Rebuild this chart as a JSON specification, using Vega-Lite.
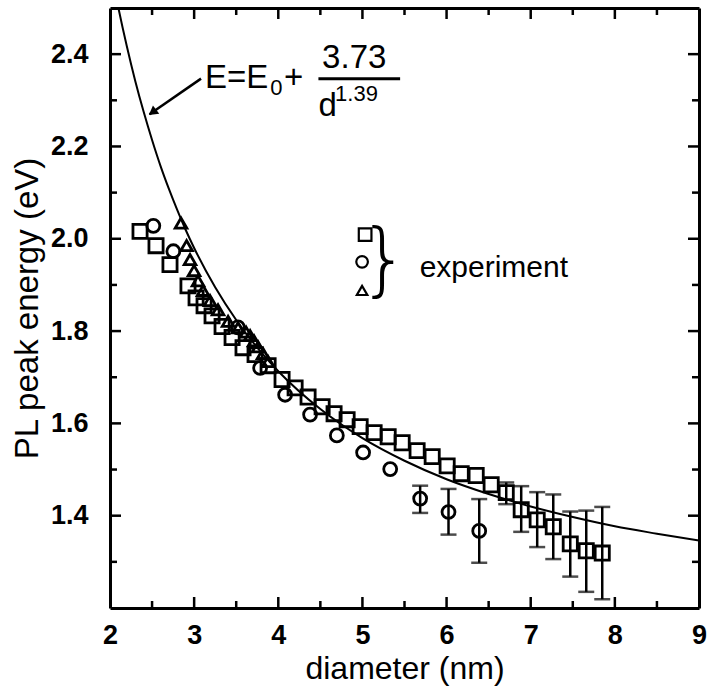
{
  "$schema": "https://vega.github.io/schema/vega-lite/v6.json",
  "width": 589,
  "height": 600,
  "autosize": "none",
  "padding": {"left": 110, "top": 8, "right": 11, "bottom": 83},
  "background": "white",
  "config": {"font": "Liberation Sans", "view": {"stroke": null}},
  "datasets": {
    "curve": [
      {"d": 2.05, "E": 2.545}, {"d": 2.1, "E": 2.5}, {"d": 2.2, "E": 2.417}, {"d": 2.3, "E": 2.342},
      {"d": 2.4, "E": 2.275}, {"d": 2.5, "E": 2.214}, {"d": 2.6, "E": 2.158}, {"d": 2.7, "E": 2.108},
      {"d": 2.8, "E": 2.062}, {"d": 2.9, "E": 2.019}, {"d": 3.0, "E": 1.98}, {"d": 3.25, "E": 1.895},
      {"d": 3.5, "E": 1.824}, {"d": 3.75, "E": 1.764}, {"d": 4.0, "E": 1.713}, {"d": 4.5, "E": 1.631},
      {"d": 5.0, "E": 1.568}, {"d": 5.5, "E": 1.519}, {"d": 6.0, "E": 1.479}, {"d": 6.5, "E": 1.447},
      {"d": 7.0, "E": 1.42}, {"d": 7.5, "E": 1.397}, {"d": 8.0, "E": 1.377}, {"d": 8.5, "E": 1.361},
      {"d": 9.0, "E": 1.346}
    ],
    "pts": [
      {"s": "sq", "d": 2.357, "E": 2.016}, {"s": "sq", "d": 2.547, "E": 1.985}, {"s": "sq", "d": 2.713, "E": 1.944},
      {"s": "sq", "d": 2.927, "E": 1.898}, {"s": "sq", "d": 3.023, "E": 1.872}, {"s": "sq", "d": 3.118, "E": 1.855},
      {"s": "sq", "d": 3.213, "E": 1.833}, {"s": "sq", "d": 3.332, "E": 1.81}, {"s": "sq", "d": 3.451, "E": 1.786},
      {"s": "sq", "d": 3.581, "E": 1.764}, {"s": "sq", "d": 3.724, "E": 1.749}, {"s": "sq", "d": 3.879, "E": 1.725},
      {"s": "sq", "d": 4.045, "E": 1.695}, {"s": "sq", "d": 4.2, "E": 1.677}, {"s": "sq", "d": 4.354, "E": 1.657},
      {"s": "sq", "d": 4.521, "E": 1.636}, {"s": "sq", "d": 4.663, "E": 1.621}, {"s": "sq", "d": 4.818, "E": 1.608},
      {"s": "sq", "d": 4.973, "E": 1.593}, {"s": "sq", "d": 5.139, "E": 1.58}, {"s": "sq", "d": 5.306, "E": 1.571},
      {"s": "sq", "d": 5.472, "E": 1.558}, {"s": "sq", "d": 5.65, "E": 1.541}, {"s": "sq", "d": 5.829, "E": 1.528},
      {"s": "sq", "d": 6.007, "E": 1.508}, {"s": "sq", "d": 6.174, "E": 1.491}, {"s": "sq", "d": 6.352, "E": 1.487},
      {"s": "sq", "d": 6.53, "E": 1.467}, {"s": "sq", "d": 6.709, "E": 1.45}, {"s": "sq", "d": 6.887, "E": 1.413},
      {"s": "sq", "d": 7.077, "E": 1.391}, {"s": "sq", "d": 7.268, "E": 1.376}, {"s": "sq", "d": 7.47, "E": 1.339},
      {"s": "sq", "d": 7.66, "E": 1.324}, {"s": "sq", "d": 7.85, "E": 1.319},
      {"s": "ci", "d": 2.515, "E": 2.028}, {"s": "ci", "d": 2.753, "E": 1.973}, {"s": "ci", "d": 3.52, "E": 1.808},
      {"s": "ci", "d": 3.784, "E": 1.72}, {"s": "ci", "d": 4.081, "E": 1.662}, {"s": "ci", "d": 4.378, "E": 1.619},
      {"s": "ci", "d": 4.696, "E": 1.574}, {"s": "ci", "d": 5.008, "E": 1.537}, {"s": "ci", "d": 5.33, "E": 1.501},
      {"s": "ci", "d": 5.686, "E": 1.437}, {"s": "ci", "d": 6.023, "E": 1.408}, {"s": "ci", "d": 6.388, "E": 1.367},
      {"s": "tr", "d": 2.844, "E": 2.034}, {"s": "tr", "d": 2.91, "E": 1.985}, {"s": "tr", "d": 2.951, "E": 1.955},
      {"s": "tr", "d": 2.999, "E": 1.931}, {"s": "tr", "d": 3.046, "E": 1.909}, {"s": "tr", "d": 3.106, "E": 1.888},
      {"s": "tr", "d": 3.189, "E": 1.866}, {"s": "tr", "d": 3.284, "E": 1.846}, {"s": "tr", "d": 3.403, "E": 1.821},
      {"s": "tr", "d": 3.522, "E": 1.807}, {"s": "tr", "d": 3.617, "E": 1.798}, {"s": "tr", "d": 3.665, "E": 1.79},
      {"s": "tr", "d": 3.712, "E": 1.779}, {"s": "tr", "d": 3.76, "E": 1.766}, {"s": "tr", "d": 3.819, "E": 1.751},
      {"s": "tr", "d": 3.879, "E": 1.734}
    ],
    "err": [
      {"d": 6.709, "lo": 1.425, "hi": 1.472}, {"d": 6.887, "lo": 1.365, "hi": 1.464},
      {"d": 7.077, "lo": 1.332, "hi": 1.451}, {"d": 7.268, "lo": 1.306, "hi": 1.446},
      {"d": 7.47, "lo": 1.268, "hi": 1.409}, {"d": 7.66, "lo": 1.235, "hi": 1.411},
      {"d": 7.85, "lo": 1.219, "hi": 1.419},
      {"d": 5.686, "lo": 1.406, "hi": 1.465}, {"d": 6.023, "lo": 1.359, "hi": 1.458},
      {"d": 6.388, "lo": 1.298, "hi": 1.436}
    ],
    "xt": [
      {"v": 3, "a": 1.2, "b": 1.2238}, {"v": 4, "a": 1.2, "b": 1.2238}, {"v": 5, "a": 1.2, "b": 1.2238},
      {"v": 6, "a": 1.2, "b": 1.2238}, {"v": 7, "a": 1.2, "b": 1.2238}, {"v": 8, "a": 1.2, "b": 1.2238},
      {"v": 2.5, "a": 1.2, "b": 1.2152}, {"v": 3.5, "a": 1.2, "b": 1.2152}, {"v": 4.5, "a": 1.2, "b": 1.2152},
      {"v": 5.5, "a": 1.2, "b": 1.2152}, {"v": 6.5, "a": 1.2, "b": 1.2152}, {"v": 7.5, "a": 1.2, "b": 1.2152},
      {"v": 8.5, "a": 1.2, "b": 1.2152},
      {"v": 3, "a": 2.5, "b": 2.4762}, {"v": 4, "a": 2.5, "b": 2.4762}, {"v": 5, "a": 2.5, "b": 2.4762},
      {"v": 6, "a": 2.5, "b": 2.4762}, {"v": 7, "a": 2.5, "b": 2.4762}, {"v": 8, "a": 2.5, "b": 2.4762},
      {"v": 2.5, "a": 2.5, "b": 2.4848}, {"v": 3.5, "a": 2.5, "b": 2.4848}, {"v": 4.5, "a": 2.5, "b": 2.4848},
      {"v": 5.5, "a": 2.5, "b": 2.4848}, {"v": 6.5, "a": 2.5, "b": 2.4848}, {"v": 7.5, "a": 2.5, "b": 2.4848},
      {"v": 8.5, "a": 2.5, "b": 2.4848}
    ],
    "yt": [
      {"v": 1.4, "a": 2, "b": 2.131}, {"v": 1.6, "a": 2, "b": 2.131}, {"v": 1.8, "a": 2, "b": 2.131},
      {"v": 2.0, "a": 2, "b": 2.131}, {"v": 2.2, "a": 2, "b": 2.131}, {"v": 2.4, "a": 2, "b": 2.131},
      {"v": 1.3, "a": 2, "b": 2.083}, {"v": 1.5, "a": 2, "b": 2.083}, {"v": 1.7, "a": 2, "b": 2.083},
      {"v": 1.9, "a": 2, "b": 2.083}, {"v": 2.1, "a": 2, "b": 2.083}, {"v": 2.3, "a": 2, "b": 2.083},
      {"v": 1.4, "a": 9, "b": 8.869}, {"v": 1.6, "a": 9, "b": 8.869}, {"v": 1.8, "a": 9, "b": 8.869},
      {"v": 2.0, "a": 9, "b": 8.869}, {"v": 2.2, "a": 9, "b": 8.869}, {"v": 2.4, "a": 9, "b": 8.869},
      {"v": 1.3, "a": 9, "b": 8.917}, {"v": 1.5, "a": 9, "b": 8.917}, {"v": 1.7, "a": 9, "b": 8.917},
      {"v": 1.9, "a": 9, "b": 8.917}, {"v": 2.1, "a": 9, "b": 8.917}, {"v": 2.3, "a": 9, "b": 8.917}
    ],
    "legend": [
      {"s": "sq", "d": 5.032, "E": 2.009}, {"s": "ci", "d": 4.996, "E": 1.95}, {"s": "tr", "d": 4.996, "E": 1.888}
    ],
    "bigtext": [
      {"t": "E=E", "d": 3.13, "E": 2.3274}, {"t": "+", "d": 4.069, "E": 2.3274},
      {"t": "3.73", "d": 4.521, "E": 2.3701}, {"t": "d", "d": 4.477, "E": 2.2652}
    ],
    "smalltext": [
      {"t": "0", "d": 3.905, "E": 2.3124}, {"t": "1.39", "d": 4.675, "E": 2.2977}
    ]
  },
  "resolve": {"axis": {"x": "independent", "y": "independent"}, "scale": {"size": "independent"}},
  "layer": [
    {
      "data": {"name": "curve"},
      "mark": {"type": "line", "color": "black", "strokeWidth": 2, "interpolate": "monotone", "clip": true},
      "encoding": {
        "x": {"field": "d", "type": "quantitative", "scale": {"domain": [2, 9], "nice": false, "zero": false},
          "axis": {
            "orient": "bottom", "values": [2, 3, 4, 5, 6, 7, 8, 9], "format": "d",
            "ticks": true, "tickSize": 0, "tickWidth": 0, "domain": true, "domainWidth": 3, "domainColor": "black",
            "labelFont": "Liberation Sans", "labelFontSize": 27, "labelFontWeight": "bold", "labelColor": "black",
            "labelPadding": 14, "labelFlush": false, "labelOverlap": false, "grid": false,
            "title": "diameter (nm)", "titleFont": "Liberation Sans", "titleFontSize": 32, "titleFontWeight": "normal",
            "titleColor": "black", "titlePadding": 5
          }},
        "y": {"field": "E", "type": "quantitative", "scale": {"domain": [1.2, 2.5], "nice": false, "zero": false},
          "axis": {
            "orient": "left", "values": [1.4, 1.6, 1.8, 2.0, 2.2, 2.4], "format": ".1f",
            "ticks": true, "tickSize": 0, "tickWidth": 0, "domain": true, "domainWidth": 3, "domainColor": "black",
            "labelFont": "Liberation Sans", "labelFontSize": 27, "labelFontWeight": "bold", "labelColor": "black",
            "labelPadding": 22, "labelFlush": false, "labelOverlap": false, "grid": false,
            "title": "PL peak energy (eV)", "titleFont": "Liberation Sans", "titleFontSize": 33, "titleFontWeight": "normal",
            "titleColor": "black", "titlePadding": 6
          }}
      }
    },
    {
      "data": {"name": "err"},
      "mark": {"type": "rule", "color": "black", "strokeWidth": 2.5},
      "encoding": {
        "x": {"field": "d", "type": "quantitative",
          "axis": {"orient": "top", "labels": false, "title": null, "grid": false, "ticks": false,
            "domain": true, "domainWidth": 3, "domainColor": "black"}},
        "y": {"field": "lo", "type": "quantitative",
          "axis": {"orient": "right", "labels": false, "title": null, "grid": false, "ticks": false,
            "domain": true, "domainWidth": 3, "domainColor": "black"}},
        "y2": {"field": "hi"}
      }
    },
    {
      "data": {"name": "err"},
      "mark": {"type": "tick", "orient": "horizontal", "color": "black", "size": 16, "thickness": 2.5},
      "encoding": {
        "x": {"field": "d", "type": "quantitative", "axis": null},
        "y": {"field": "hi", "type": "quantitative", "axis": null}
      }
    },
    {
      "data": {"name": "err"},
      "mark": {"type": "tick", "orient": "horizontal", "color": "black", "size": 16, "thickness": 2.5},
      "encoding": {
        "x": {"field": "d", "type": "quantitative", "axis": null},
        "y": {"field": "lo", "type": "quantitative", "axis": null}
      }
    },
    {
      "data": {"name": "pts"},
      "mark": {"type": "point", "filled": false, "color": "black", "strokeWidth": 2.8, "opacity": 1},
      "encoding": {
        "x": {"field": "d", "type": "quantitative", "axis": null},
        "y": {"field": "E", "type": "quantitative", "axis": null},
        "shape": {"field": "s", "type": "nominal", "legend": null,
          "scale": {"domain": ["sq", "ci", "tr"], "range": ["square", "circle", "triangle-up"]}},
        "size": {"field": "s", "type": "nominal", "legend": null,
          "scale": {"domain": ["sq", "ci", "tr"], "range": [200, 135, 180]}}
      }
    },
    {
      "data": {"name": "legend"},
      "mark": {"type": "point", "filled": false, "color": "black", "strokeWidth": 2.2, "opacity": 1},
      "encoding": {
        "x": {"field": "d", "type": "quantitative", "axis": null},
        "y": {"field": "E", "type": "quantitative", "axis": null},
        "shape": {"field": "s", "type": "nominal", "legend": null,
          "scale": {"domain": ["sq", "ci", "tr"], "range": ["square", "circle", "triangle-up"]}},
        "size": {"field": "s", "type": "nominal", "legend": null,
          "scale": {"domain": ["sq", "ci", "tr"], "range": [160, 110, 170]}}
      }
    },
    {
      "data": {"values": [{"t": "}", "d": 5.258, "E": 1.95}]},
      "mark": {"type": "text", "font": "DejaVu Sans", "fontWeight": 200, "fontSize": 80, "align": "center", "baseline": "middle", "color": "black"},
      "encoding": {
        "x": {"field": "d", "type": "quantitative", "axis": null},
        "y": {"field": "E", "type": "quantitative", "axis": null},
        "text": {"field": "t"}
      }
    },
    {
      "data": {"values": [{"t": "experiment", "d": 5.68, "E": 1.918}]},
      "mark": {"type": "text", "font": "Liberation Sans", "fontSize": 30, "align": "left", "baseline": "alphabetic", "color": "black"},
      "encoding": {
        "x": {"field": "d", "type": "quantitative", "axis": null},
        "y": {"field": "E", "type": "quantitative", "axis": null},
        "text": {"field": "t"}
      }
    },
    {
      "data": {"name": "bigtext"},
      "mark": {"type": "text", "font": "Liberation Sans", "fontSize": 33, "align": "left", "baseline": "alphabetic", "color": "black"},
      "encoding": {
        "x": {"field": "d", "type": "quantitative", "axis": null},
        "y": {"field": "E", "type": "quantitative", "axis": null},
        "text": {"field": "t"}
      }
    },
    {
      "data": {"name": "smalltext"},
      "mark": {"type": "text", "font": "Liberation Sans", "fontSize": 22, "align": "left", "baseline": "alphabetic", "color": "black"},
      "encoding": {
        "x": {"field": "d", "type": "quantitative", "axis": null},
        "y": {"field": "E", "type": "quantitative", "axis": null},
        "text": {"field": "t"}
      }
    },
    {
      "data": {"values": [{"d1": 4.477, "d2": 5.448, "E": 2.3469}]},
      "mark": {"type": "rule", "color": "black", "strokeWidth": 3},
      "encoding": {
        "x": {"field": "d1", "type": "quantitative", "axis": null},
        "x2": {"field": "d2"},
        "y": {"field": "E", "type": "quantitative", "axis": null}
      }
    },
    {
      "data": {"values": [{"d1": 3.082, "E1": 2.347, "d2": 2.47, "E2": 2.27}]},
      "mark": {"type": "rule", "color": "black", "strokeWidth": 2.5},
      "encoding": {
        "x": {"field": "d1", "type": "quantitative", "axis": null},
        "y": {"field": "E1", "type": "quantitative", "axis": null},
        "x2": {"field": "d2"},
        "y2": {"field": "E2"}
      }
    },
    {
      "data": {"values": [{"d": 2.505, "E": 2.274}]},
      "mark": {"type": "point", "shape": "triangle-up", "filled": true, "color": "black", "size": 110, "angle": 233, "opacity": 1},
      "encoding": {
        "x": {"field": "d", "type": "quantitative", "axis": null},
        "y": {"field": "E", "type": "quantitative", "axis": null}
      }
    },
    {
      "data": {"name": "xt"},
      "mark": {"type": "rule", "color": "black", "strokeWidth": 2.5},
      "encoding": {
        "x": {"field": "v", "type": "quantitative", "axis": null},
        "y": {"field": "a", "type": "quantitative", "axis": null},
        "y2": {"field": "b"}
      }
    },
    {
      "data": {"name": "yt"},
      "mark": {"type": "rule", "color": "black", "strokeWidth": 2.5},
      "encoding": {
        "y": {"field": "v", "type": "quantitative", "axis": null},
        "x": {"field": "a", "type": "quantitative", "axis": null},
        "x2": {"field": "b"}
      }
    }
  ]
}
